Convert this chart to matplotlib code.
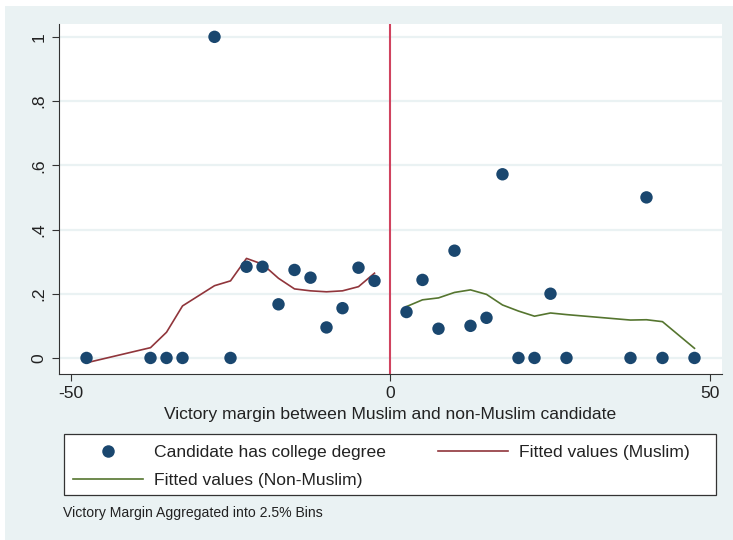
import matplotlib
matplotlib.use("Agg")
import matplotlib.pyplot as plt
from matplotlib.patches import Rectangle
from matplotlib.lines import Line2D

plt.rcParams['font.family'] = ['Liberation Sans', 'DejaVu Sans']

# binned victory margin (2.5% bins) and share of candidates with a college degree
bins = [-47.5, -37.5, -35, -32.5, -27.5, -25, -22.5, -20, -17.5, -15, -12.5, -10, -7.5, -5, -2.5,
        2.5, 5, 7.5, 10, 12.5, 15, 17.5, 20, 22.5, 25, 27.5, 37.5, 40, 42.5, 47.5]
college = [0, 0, 0, 0, 1, 0, 0.284, 0.284, 0.167, 0.274, 0.25, 0.095, 0.155, 0.281, 0.24,
           0.143, 0.243, 0.091, 0.334, 0.10, 0.125, 0.572, 0, 0, 0.20, 0, 0, 0.50, 0, 0]

muslim_x = [-47.5, -37.5, -35, -32.5, -27.5, -25, -22.5, -20, -17.5, -15, -12.5, -10, -7.5, -5, -2.5]
muslim_fit = [-0.015, 0.032, 0.08, 0.162, 0.225, 0.24, 0.31, 0.292, 0.248, 0.215, 0.209,
              0.206, 0.209, 0.222, 0.264]

nonmuslim_x = [2.5, 5, 7.5, 10, 12.5, 15, 17.5, 20, 22.5, 25, 27.5, 37.5, 40, 42.5, 47.5]
nonmuslim_fit = [0.160, 0.181, 0.187, 0.204, 0.212, 0.198, 0.165, 0.146, 0.130, 0.140,
                 0.135, 0.118, 0.119, 0.113, 0.030]

yticks = [0, 0.2, 0.4, 0.6, 0.8, 1]
ytick_labels = ['0', '.2', '.4', '.6', '.8', '1']
xticks = [-50, 0, 50]

bg = '#eaf2f3'
navy = '#1a476f'
maroon = '#90353b'
green = '#55752f'
ink = '#222222'

W, H = 733, 540
fig = plt.figure(figsize=(W / 100, H / 100), dpi=100, facecolor='white')
fig.patches.append(Rectangle((5 / W, 0), 1, 1 - 6 / H, transform=fig.transFigure,
                             facecolor=bg, edgecolor='none', zorder=-10))

ax = fig.add_axes([59 / W, 1 - 374 / H, (722 - 59) / W, (374 - 24) / H])
ax.set_facecolor('white')

for y in yticks:
    ax.axhline(y, color=bg, lw=1.6, zorder=0)
ax.axvline(0, color='#d0435f', lw=1.5, zorder=1)

ax.scatter(bins, college, s=80, color=navy, edgecolors='none', zorder=3)
lm, = ax.plot(muslim_x, muslim_fit, color=maroon, lw=1.2, zorder=2)
ln, = ax.plot(nonmuslim_x, nonmuslim_fit, color=green, lw=1.2, zorder=2)

ax.set_xlim(-51.8, 51.8)
ax.set_ylim(-0.05, 1.04)
ax.set_xticks(xticks)
ax.set_xticklabels([str(t) for t in xticks], fontsize=12.6, color=ink)
ax.set_yticks(yticks)
ax.set_yticklabels(ytick_labels, fontsize=12.6, rotation=90, va='center', color=ink)
ax.tick_params(direction='out', length=5, width=0.8, color='#333333', pad=4)
for side in ['top', 'right']:
    ax.spines[side].set_visible(False)
for side in ['left', 'bottom']:
    ax.spines[side].set_color('#333333')
    ax.spines[side].set_linewidth(0.8)

ax.set_xlabel('Victory margin between Muslim and non-Muslim candidate', fontsize=12.6,
              labelpad=4, color=ink)

# legend box (Stata style: square frame across the graph width)
fig.patches.append(Rectangle((64 / W, 1 - 495 / H), (716 - 64) / W, (495 - 434) / H,
                             transform=fig.transFigure, facecolor='white',
                             edgecolor='#333333', lw=0.9, zorder=-5))
h_dot = Line2D([], [], marker='o', ls='none', color=navy, markersize=9, markeredgewidth=0)
leg = fig.legend([h_dot, ln, lm],
                 ['Candidate has college degree', 'Fitted values (Non-Muslim)', 'Fitted values (Muslim)'],
                 loc='upper left', bbox_to_anchor=(73 / W, 1 - 445 / H),
                 ncol=2, fontsize=12.6, frameon=False,
                 handlelength=4.0, handletextpad=0.63, borderpad=0, labelspacing=0.72,
                 columnspacing=2.97, borderaxespad=0)
for t in leg.get_texts():
    t.set_color(ink)

fig.text(63 / W, 1 - 513 / H, 'Victory Margin Aggregated into 2.5% Bins', fontsize=10.1,
         va='center', ha='left', color=ink)

fig.savefig('out.png', dpi=100, facecolor=fig.get_facecolor())
